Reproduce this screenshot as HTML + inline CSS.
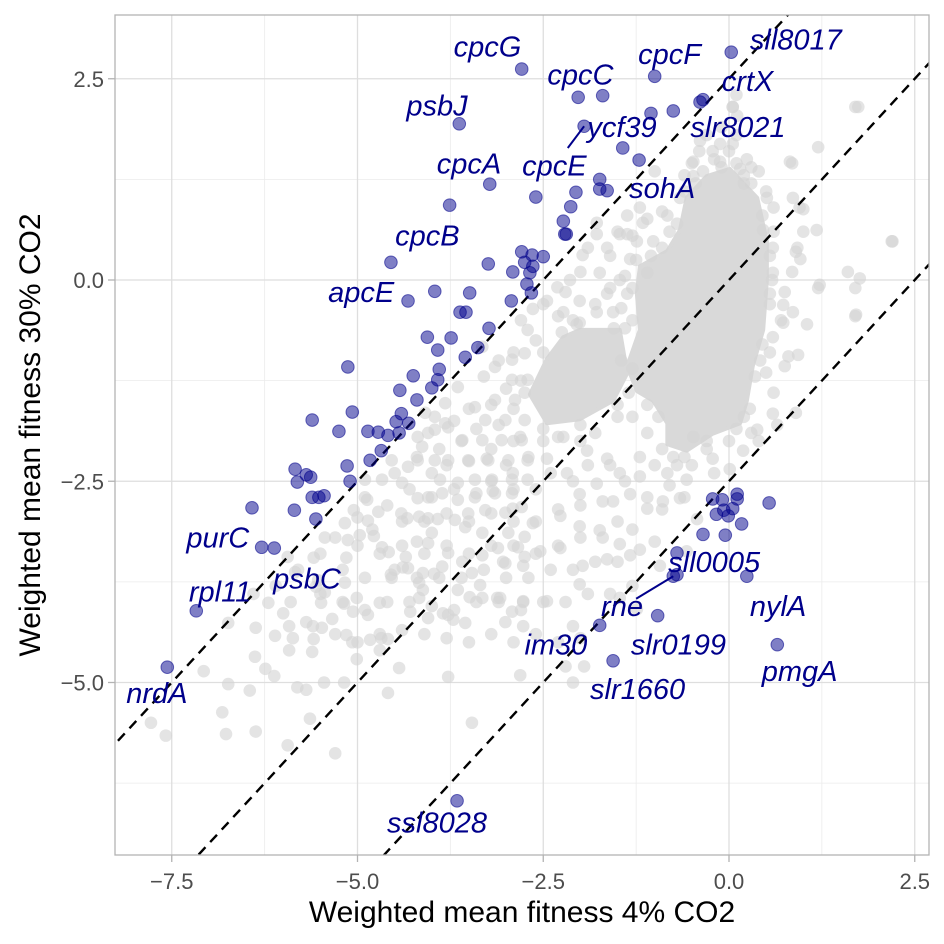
<!DOCTYPE html>
<html><head><meta charset="utf-8"><style>
html,body{margin:0;padding:0;background:#fff;width:944px;height:944px;overflow:hidden}
svg{display:block}
svg text{font-family:"Liberation Sans",sans-serif}
</style></head><body>
<svg id="chart" width="944" height="944" viewBox="0 0 944 944" xmlns="http://www.w3.org/2000/svg">
<rect x="0" y="0" width="944" height="944" fill="#fff"/>
<g id="grid"></g>
<g id="ticks"></g>
<defs><clipPath id="clip"><rect x="115" y="15" width="814" height="840"/></clipPath></defs>
<g id="plot" clip-path="url(#clip)"></g>
<rect x="115" y="15" width="814" height="840" fill="none" stroke="#b3b3b3" stroke-width="1.3"/>
<g id="labels"></g>
<text x="522" y="922" text-anchor="middle" font-size="30" fill="#000">Weighted mean fitness 4% CO2</text>
<text transform="translate(40,435) rotate(-90)" text-anchor="middle" font-size="30" fill="#000">Weighted mean fitness 30% CO2</text>
</svg>
<script>
const xTicks=[-7.5,-5.0,-2.5,0.0,2.5];
const xTickLabels=["\u22127.5","\u22125.0","\u22122.5","0.0","2.5"];
const yTicks=[2.5,0.0,-2.5,-5.0];
const yTickLabels=["2.5","0.0","\u22122.5","\u22125.0"];
const xMinor=[-6.25,-3.75,-1.25,1.25];
const yMinor=[1.25,-1.25,-3.75,-6.25];
const lineOffsets=[2.5,0,-2.5];
const coreBlob=[[0.01,1.38],[0.38,1.02],[0.51,0.48],[0.51,0.0],[0.46,-0.62],[0.32,-1.07],[0.24,-1.5],[0.15,-1.78],[-0.22,-1.91],[-0.57,-2.12],[-0.83,-2.04],[-0.83,-1.78],[-1.02,-1.5],[-1.24,-1.38],[-1.37,-1.07],[-1.2,-0.62],[-1.24,-0.17],[-1.2,0.17],[-0.83,0.36],[-0.66,0.62],[-0.57,1.02],[-0.3,1.29]];
const secondBlob=[[-2.01,-0.62],[-1.47,-0.62],[-1.37,-1.16],[-1.56,-1.5],[-2.01,-1.73],[-2.45,-1.78],[-2.68,-1.42],[-2.45,-0.98],[-2.23,-0.71]];
const edgePts="0.1,1.45 0.3,1.2 0.45,0.8 0.55,0.3 0.55,-0.3 0.45,-0.8 0.35,-1.2 0.28,-1.6 0.1,-1.85 -0.3,-2.0 -0.6,-2.2 -0.9,-2.1 -0.95,-1.7 -1.1,-1.55 -1.35,-1.4 -1.45,-1.0 -1.3,-0.5 -1.3,-0.1 -1.25,0.25 -0.9,0.4 -0.7,0.7 -0.6,1.1 -0.35,1.35 -0.1,1.4 0.2,1.3 -2.05,-0.55 -1.4,-0.6 -1.3,-1.1 -1.5,-1.55 -2.0,-1.8 -2.5,-1.85 -2.75,-1.4 -2.5,-0.9 -2.25,-0.65 0.58,0.0 -1.05,0.3 -0.75,-2.2 0.2,-1.7 0.42,-1.0 -0.45,1.2";
const greyPts="-0.2,1.5 0,1.6 0.1,1.8 -0.1,1.9 0.05,2.15 0.1,2.3 -0.4,1.6 0.3,1.4 -0.6,1.3 0.2,1.2 0.5,1.1 0.6,0.9 -0.3,1.8 -0.5,1.45 0.4,1.35 1.2,1.65 0.85,1.45 0.95,0.9 1.7,2.15 2.2,0.48 1.7,-0.45 1.7,-0.1 1.2,-0.1 1.0,0.6 0.9,0.35 0.75,-0.15 0.8,-0.95 0.5,-1.15 0.9,-1.65 0.6,-1.4 0.7,-0.5 0.6,0.6 0.85,0.1 1.05,-0.55 0.65,-1.8 0.4,-2.0 0.3,-1.9 1.6,0.1 0.55,-0.9 -1.0,1.35 -1.2,0.9 -0.9,0.85 -1.5,0.6 -1.3,0.55 -0.8,0.6 -1.9,0.4 -1.6,0.3 -1.4,0.05 -1.6,-0.1 -1.8,-0.3 -2.0,0.1 -2.2,-0.15 -2.3,-0.45 -2.5,-0.3 -2.1,-0.5 -1.45,-0.35 -1.55,-0.6 -2.8,-0.5 -2.6,-0.75 -2.9,-0.9 -3.1,-1.0 -3.3,-1.2 -3.0,-1.35 -2.8,-1.25 -3.2,-1.55 -3.5,-1.6 -3.7,-1.75 -3.4,-1.85 -3.1,-1.8 -2.9,-1.6 -3.6,-2.0 -3.9,-2.1 -4.2,-2.2 -4.0,-2.4 -3.8,-2.3 -3.5,-2.25 -3.2,-2.1 -2.9,-2.0 -3.0,-2.3 -2.7,-2.2 -2.5,-2.0 -2.3,-1.95 -2.0,-2.0 -1.8,-1.9 -1.5,-1.7 -1.3,-1.7 -1.1,-1.9 -1.2,-2.2 -1.0,-2.3 -0.7,-2.3 -0.5,-2.3 -0.3,-2.1 0.0,-2.0 -0.2,-2.4 -0.8,-2.55 -0.6,-2.7 -0.9,-2.85 -1.1,-2.7 -1.4,-2.5 -1.6,-2.3 -1.9,-2.3 -2.1,-2.5 -2.4,-2.4 -2.6,-2.6 -2.9,-2.6 -3.2,-2.5 -3.4,-2.65 -3.7,-2.6 -4.0,-2.7 -4.3,-2.6 -4.5,-2.4 -4.6,-2.8 -4.9,-2.7 -5.0,-2.95 -4.8,-3.1 -4.4,-3.0 -4.1,-3.0 -3.8,-2.9 -3.5,-3.0 -3.2,-2.9 -2.9,-3.0 -2.6,-3.0 -2.3,-2.85 -2.0,-2.8 -1.7,-2.75 -1.5,-3.0 -1.3,-3.1 -1.2,-3.35 -1.0,-3.25 -1.7,-3.2 -2.0,-3.2 -2.3,-3.3 -2.6,-3.4 -2.9,-3.3 -3.2,-3.3 -3.5,-3.4 -3.8,-3.3 -4.1,-3.4 -4.4,-3.3 -4.7,-3.4 -5.0,-3.3 -5.3,-3.2 -5.5,-3.4 -5.2,-3.6 -4.9,-3.7 -4.5,-3.6 -4.2,-3.7 -3.9,-3.7 -3.6,-3.7 -3.3,-3.6 -3.0,-3.7 -2.7,-3.7 -2.4,-3.6 -2.1,-3.6 -1.8,-3.5 -1.5,-3.5 -1.3,-3.8 -1.6,-3.9 -1.9,-3.9 -2.2,-4.0 -2.5,-4.0 -2.8,-4.1 -3.1,-4.0 -3.4,-4.0 -3.7,-4.1 -4.0,-4.05 -4.3,-4.0 -4.6,-4.0 -4.9,-4.1 -5.2,-4.0 -5.5,-3.9 -5.8,-3.6 -5.9,-4.0 -6.1,-3.8 -6.4,-3.9 -5.6,-4.3 -5.3,-4.4 -5.0,-4.5 -4.7,-4.4 -4.4,-4.35 -4.1,-4.4 -3.8,-4.45 -3.5,-4.5 -3.2,-4.4 -2.9,-4.5 -2.6,-4.4 -2.3,-4.5 -2.0,-4.45 -1.95,-4.8 -2.2,-4.8 -2.1,-5.0 -7.07,-4.86 -6.74,-5.02 -6.45,-5.1 -6.82,-5.37 -7.78,-5.5 -7.58,-5.66 -6.77,-5.64 -6.37,-5.61 -5.94,-5.78 -5.64,-5.45 -5.3,-5.88 -3.46,-5.5 -4.59,-5.13 -3.78,-4.93 -2.81,-4.91 -5.81,-5.06 -5.69,-5.09 -5.45,-5.0 -5.18,-5.0 -4.44,-4.82 -6.24,-4.83 -6.12,-4.92 -6.38,-4.68 -6.74,-4.26 -6.37,-4.32 -6.2,-4.01 -6.11,-4.42 -6.0,-4.14 -5.92,-4.3 -5.87,-4.45 -5.92,-4.6 -5.69,-4.25 -5.61,-4.62 -5.59,-4.46 -5.48,-4.32 -5.34,-4.21 -5.49,-4.01 -5.56,-3.81 -5.44,-3.88 -5.18,-4.02 -5.06,-4.12 -5.01,-3.95 -4.7,-4.01 -4.86,-4.16 -5.15,-4.41 -5.07,-4.5 -4.83,-4.47 -4.68,-4.45 -4.59,-4.46 -4.7,-4.6 -5.01,-4.71 -4.29,-4.12 -4.12,-3.85 -4.17,-3.95 -4.05,-4.2 -3.85,-4.14 -3.78,-4.16 -3.71,-4.22 -3.55,-4.26 -3.12,-3.95 -3.01,-4.25 -2.92,-4.12 -2.77,-4.0 -5.44,-3.2 -5.59,-3.45 -5.15,-3.45 -5.13,-3.23 -4.97,-3.17 -5.17,-3.02 -4.87,-2.73 -5.05,-2.86 -4.72,-2.88 -4.86,-2.99 -4.78,-3.18 -4.67,-3.32 -4.58,-3.38 -4.39,-3.57 -4.55,-3.66 -4.41,-2.9 -4.33,-2.96 -4.17,-2.94 -4.05,-2.96 -3.92,-2.97 -4.0,-3.14 -4.05,-3.27 -4.2,-3.25 -4.35,-3.44 -4.32,-3.58 -4.12,-3.64 -3.97,-3.65 -4.17,-3.76 -3.86,-3.56 -3.78,-3.39 -3.59,-3.5 -3.46,-3.64 -3.35,-3.79 -3.65,-3.85 -3.49,-3.94 -3.32,-3.95 -3.01,-3.52 -3.32,-3.42 -3.11,-3.33 -2.84,-3.32 -2.75,-3.44 -2.75,-3.19 -2.97,-3.14 -3.32,-3.14 -3.55,-3.07 -3.69,-2.98 -3.51,-2.9 -3.28,-2.86 -3.01,-2.89 -2.79,-2.82 -2.92,-2.65 -3.15,-2.65 -3.42,-2.7 -3.65,-2.73 -3.86,-2.65 -4.05,-2.7 -4.19,-2.71 -3.89,-2.48 -3.65,-2.52 -3.42,-2.48 -3.19,-2.48 -2.92,-2.48 -2.71,-2.48 -3.78,-2.24 -3.51,-2.24 -3.24,-2.24 -2.97,-2.24 -2.71,-2.24 -3.59,-1.99 -3.32,-1.99 -3.06,-1.99 -2.79,-1.99 -3.28,-1.74 -3.01,-1.74 -2.75,-1.74 -3.15,-1.49 -2.88,-1.49 -2.92,-1.24 -2.71,-1.24 -2.92,-0.99 -2.75,-0.91 -2.71,-0.62 -3.15,-1.08 -3.32,-0.83 -3.65,-1.33 -3.82,-1.53 -3.96,-1.7 -4.05,-1.9 -3.78,-1.83 -3.42,-1.58 -4.13,-2.07 -4.19,-1.95 -4.4,-2.52 -4.32,-2.32 -5.94,-3.44 -5.84,-3.63 -5.53,-3.73 -5.17,-3.76 -4.54,-3.7 -3.26,-2.22 -2.91,-2.4 -2.45,-2.22 -2.18,-2.4 -2.01,-2.66 -1.78,-2.53 -1.56,-2.75 -1.33,-2.66 -1.1,-2.84 -0.89,-2.75 -0.66,-2.71 -0.57,-2.48 -0.83,-2.4 -1.2,-2.44 -1.47,-2.4 -1.64,-2.22 -1.91,-2.12 -2.23,-1.95 -2.81,-1.95 -3.18,-2.62 -2.91,-2.84 -2.64,-3.02 -2.27,-2.93 -2.01,-3.06 -1.74,-3.11 -1.47,-3.28 -1.33,-3.42 -1.64,-3.47 -1.97,-3.55 -2.27,-3.33 -2.54,-3.37 -2.77,-3.55 -3.04,-3.5 -3.08,-3.95 -2.77,-3.99 -2.45,-3.99 -2.01,-3.78 -1.47,-3.95 -1.24,-4.09 -0.93,-3.55 -0.57,-3.37 -0.43,-2.97 -2.1,-4.3 -2.77,-4.3 -2.01,-0.26 -1.64,-0.17 -1.47,0.0 -1.74,0.09 -1.97,0.31 -1.64,0.4 -1.47,0.57 -1.78,0.57 -1.37,0.8 -1.1,0.76 -1.02,0.48 -0.83,0.8 -0.66,1.02 -0.48,1.29 -0.22,1.6 -0.12,1.47 0.05,1.69 0.15,1.38 0.24,1.5 -0.48,1.47 -0.39,1.73 0.05,2.15 0.11,2.04 -0.12,1.69 0.82,1.47 1.74,2.15 0.86,1.02 1.0,0.88 1.18,0.62 2.19,0.48 0.92,0.4 0.96,0.26 1.22,-0.06 1.76,0.02 1.71,-0.43 0.73,-0.31 0.86,-0.4 0.73,-0.53 0.59,-0.71 0.93,-0.93 0.75,-1.07 0.59,-1.66 0.38,-1.86 0.19,-2.12 0.01,-2.35 -0.22,-2.22 -0.48,-1.95 0.51,1.02 0.46,0.62 0.59,0.4 0.59,0.09 0.55,-0.17 -1.16,0.71 -1.24,0.48 -1.33,0.26 -1.1,0.09 -1.37,-0.17 -1.56,-0.4 -1.78,-0.4 -2.01,-0.53 -2.23,-0.4 -2.45,-0.26 -2.64,-0.36 -2.31,-0.09 -2.14,0.0 -1.78,0.71 -1.37,0.57 -4.09,-1.65 -3.96,-1.86 -3.82,-1.78 -4.19,-2.24 -3.96,-2.24 -4.54,-2.24 -4.67,-2.48 -4.9,-2.48";
const bluePts="-4.32,-0.26 -3.96,-0.14 -3.49,-0.16 -2.93,-0.26 -3.62,-0.4 -3.54,-0.4 -3.23,-0.6 -4.06,-0.71 -3.74,-0.72 -3.92,-0.87 -3.55,-0.96 -3.38,-0.84 -5.13,-1.08 -3.9,-1.11 -3.92,-1.24 -4.25,-1.19 -4.43,-1.37 -4.0,-1.34 -4.2,-1.49 -5.61,-1.74 -5.07,-1.64 -4.41,-1.66 -4.48,-1.76 -4.31,-1.78 -4.44,-1.9 -5.25,-1.88 -4.86,-1.88 -4.72,-1.89 -4.59,-1.93 -4.68,-2.12 -4.83,-2.24 -5.14,-2.31 -5.84,-2.35 -5.69,-2.42 -5.63,-2.45 -5.81,-2.51 -5.1,-2.5 -5.61,-2.7 -5.52,-2.7 -5.45,-2.68 -6.42,-2.83 -5.85,-2.86 -5.56,-2.97 -6.29,-3.32 -6.12,-3.33 -7.17,-4.11 -7.56,-4.81 -2.03,2.27 -1.7,2.29 -0.35,2.24 -0.39,2.21 -0.75,2.1 -1.05,2.07 -1.95,1.91 -1.43,1.64 -1.21,1.49 -3.22,1.19 -2.6,1.03 -2.06,1.09 -1.74,1.25 -1.74,1.13 -1.64,1.11 -2.13,0.91 -2.23,0.73 -2.21,0.57 -2.19,0.57 -2.79,0.35 -2.65,0.31 -2.5,0.29 -2.75,0.22 -2.64,0.17 -2.68,0.09 -3.24,0.2 -2.91,0.1 -2.72,-0.05 -2.66,-0.16 -2.79,2.62 -1.0,2.53 0.03,2.83 -3.63,1.94 -3.76,0.93 -4.55,0.22 -0.22,-2.72 -0.09,-2.73 0.11,-2.66 0.11,-2.72 0.54,-2.77 -0.17,-2.91 -0.07,-2.86 -0.01,-2.93 0.05,-2.84 0.17,-3.03 -0.35,-3.16 -0.05,-3.17 -0.7,-3.39 -0.75,-3.68 -0.7,-3.66 0.24,-3.68 -0.96,-4.17 -1.74,-4.29 -1.56,-4.73 0.65,-4.53 -3.66,-6.47";
const geneNames=["sll8017","crtX","cpcF","cpcG","cpcC","psbJ","ycf39","slr8021","cpcA","cpcE","sohA","cpcB","apcE","purC","rpl11","psbC","nrdA","sll0005","rne","nylA","im30","slr0199","slr1660","pmgA","ssl8028"];
const geneLabelX=[0.9,0.25,-0.8,-3.25,-2.0,-3.93,-1.44,0.12,-3.5,-2.35,-0.9,-4.06,-4.95,-6.88,-6.85,-5.68,-7.7,-0.2,-1.44,0.66,-2.33,-0.68,-1.23,0.95,-3.93];
const geneLabelY=[2.99,2.47,2.81,2.9,2.55,2.17,1.9,1.9,1.45,1.42,1.14,0.55,-0.15,-3.2,-3.87,-3.71,-5.13,-3.5,-4.05,-4.05,-4.53,-4.53,-5.08,-4.86,-6.74];
const labelLinks=[[-2.17,1.64,-1.95,1.91],[-1.25,-3.96,-0.75,-3.68]];

const X0=729,XS=74.3,Y0=280,YS=80.5;
function sx(v){return X0+v*XS;}
function sy(v){return Y0-v*YS;}
const NS="http://www.w3.org/2000/svg";
function mk(tag,attrs,parent){const e=document.createElementNS(NS,tag);for(const k in attrs)e.setAttribute(k,attrs[k]);parent.appendChild(e);return e;}
const grid=document.getElementById('grid'),ticks=document.getElementById('ticks'),plot=document.getElementById('plot'),labels=document.getElementById('labels');

xMinor.forEach(v=>{const l=mk('line',{x1:sx(v),x2:sx(v),y1:15,y2:855,stroke:'#ebebeb','stroke-width':0.8},grid);});
yMinor.forEach(v=>{if(sy(v)<855){const l=mk('line',{x1:115,x2:929,y1:sy(v),y2:sy(v),stroke:'#ebebeb','stroke-width':0.8},grid);}});
xTicks.forEach((v,i)=>{
 const g=mk('line',{x1:sx(v),x2:sx(v),y1:15,y2:855,stroke:'#dedede','stroke-width':1.3},grid);
 
 const t=mk('line',{x1:sx(v),x2:sx(v),y1:855,y2:862,stroke:'#b3b3b3','stroke-width':1.3},ticks);
 
 const tx=mk('text',{x:sx(v),y:889,'text-anchor':'middle','font-size':22,fill:'#4d4d4d'},ticks);
 tx.textContent=xTickLabels[i];
 
});
yTicks.forEach((v,i)=>{
 const g=mk('line',{x1:115,x2:929,y1:sy(v),y2:sy(v),stroke:'#dedede','stroke-width':1.3},grid);
 
 const t=mk('line',{x1:108,x2:115,y1:sy(v),y2:sy(v),stroke:'#b3b3b3','stroke-width':1.3},ticks);
 
 const tx=mk('text',{x:104,y:sy(v)+8,'text-anchor':'end','font-size':22,fill:'#4d4d4d'},ticks);
 tx.textContent=yTickLabels[i];
 
});
function poly(arr,name){
 const p=mk('path',{d:'M'+arr.map(a=>sx(a[0])+','+sy(a[1])).join('L')+'Z',fill:'#d9d9d9',stroke:'#d9d9d9','stroke-width':4,'stroke-linejoin':'round'},plot);
 
}
poly(coreBlob,'dense-core-overlap');
poly(secondBlob,'dense-secondary-overlap');
(greyPts+" "+edgePts).trim().split(/\s+/).forEach(s=>{const [a,b]=s.split(',').map(Number);
 const c=mk('circle',{cx:sx(a),cy:sy(b),r:6.3,fill:'#d3d3d3','fill-opacity':0.62},plot);
 });
lineOffsets.forEach(c=>{
 const l=mk('line',{x1:sx(-9),y1:sy(-9+c),x2:sx(3),y2:sy(3+c),stroke:'#000','stroke-width':2.4,'stroke-dasharray':'10,7'},plot);
 
});
bluePts.trim().split(/\s+/).forEach(s=>{const [a,b]=s.split(',').map(Number);
 const c=mk('circle',{cx:sx(a),cy:sy(b),r:6.3,fill:'#00008b','fill-opacity':0.5,stroke:'#00008b','stroke-opacity':0.55,'stroke-width':1},plot);
 });
labelLinks.forEach(k=>{
 const l=mk('line',{x1:sx(k[0]),y1:sy(k[1]),x2:sx(k[2]),y2:sy(k[3]),stroke:'#00008b','stroke-width':2},labels);
 
});
geneNames.forEach((n,i)=>{
 const t=mk('text',{x:sx(geneLabelX[i]),y:sy(geneLabelY[i])+10,'text-anchor':'middle','font-size':29,'font-style':'italic',fill:'#00008b'},labels);
 t.textContent=n;
 
});
</script>
</body></html>
